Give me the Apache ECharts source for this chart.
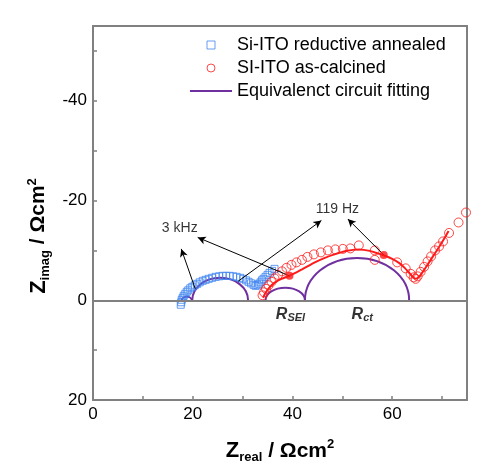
<!DOCTYPE html>
<html><head><meta charset="utf-8">
<script src="https://cdn.jsdelivr.net/npm/echarts@6/dist/echarts.min.js"></script>
<style>html,body{margin:0;padding:0;background:#fff}#c{width:500px;height:474px}</style>
</head><body><div id="c"></div>
<script>
// ---- data ----
const blueAnnealed = [
  [17.6,0.9],[17.7,0.4],[17.8,-0.1],[18.0,-0.5],[18.2,-0.9],[18.5,-1.3],[18.8,-1.7],[19.1,-2.0],
  [19.5,-2.4],[19.9,-2.7],[20.4,-3.0],[20.9,-3.3],[21.4,-3.6],[22.0,-3.9],[22.6,-4.1],[23.2,-4.3],
  [23.9,-4.5],[24.6,-4.7],[25.3,-4.8],[26.0,-4.9],[26.7,-4.9],[27.4,-4.9],[28.1,-4.8],[28.8,-4.7],
  [29.5,-4.5],[30.1,-4.3],[30.7,-4.0],[31.2,-3.7],[31.7,-3.4],[32.2,-3.1],[32.6,-2.9],[33.0,-3.0],
  [33.3,-3.3],[33.6,-3.6],[33.9,-4.0],[34.2,-4.3],[34.6,-4.7],[35.0,-5.1],[35.4,-5.5],[35.9,-5.9],[36.4,-6.3]
];
const redCalcined = [
  [34.0,-1.0],[34.3,-1.6],[34.7,-2.3],[35.2,-3.0],[35.8,-3.7],[36.4,-4.4],[37.1,-5.1],[37.9,-5.8],
  [38.8,-6.5],[39.8,-7.1],[40.8,-7.6],[41.9,-8.1],[43.0,-8.7],[44.3,-9.2],[45.7,-9.6],[47.1,-10.0],
  [48.6,-10.2],[50.1,-10.3],[51.6,-10.4],[53.3,-11.0],[56.5,-10.0],[56.5,-8.1],[61.0,-7.6],[62.7,-6.4],
  [63.7,-5.3],[64.3,-4.6],[64.7,-4.3],[65.1,-4.8],[65.7,-5.7],[66.4,-6.7],[67.1,-7.8],[67.8,-8.8],
  [68.6,-10.0],[69.4,-10.8],[70.2,-11.8],[71.4,-13.5],[73.3,-15.6],[74.8,-17.6]
];
const redFit = [
  [34.1,-0.5],[34.6,-1.5],[35.4,-2.6],[36.5,-3.6],[37.8,-4.3],[39.4,-4.9],[40.8,-5.6],[42.1,-6.3],
  [44.7,-7.7],[46.5,-8.5],[48.1,-9.1],[50.7,-9.9],[53.4,-10.2],[55.5,-9.9],[57.4,-9.3],[58.3,-9.0],
  [60.0,-8.3],[61.5,-7.4],[62.5,-6.5],[63.5,-5.4],[64.2,-4.6],[64.7,-4.3],[65.3,-4.6],[66.2,-5.8],
  [67.2,-7.3],[68.3,-9.0],[69.4,-10.7],[70.5,-12.5],[71.3,-13.9]
];
const markedPoints = [[39.4,-4.9],[58.3,-9.1]];
// circuit-element arcs: [start, end, height]
const fitArcs = [[17.8,19.8,0.7],[19.9,31.1,4.5],[34.6,42.5,2.5],[42.5,63.4,8.5]];
const arrows = [
  [[20.5,-2.3],[17.7,-10.3]],
  [[39.4,-4.9],[21.0,-12.6]],
  [[29.1,-3.8],[45.8,-16.0]],
  [[58.4,-9.0],[51.1,-16.3]]
];
const notes = [
  [17.4,-14.4,'3 kHz'],
  [49.0,-18.2,'119 Hz'],
  [39.6,2.8,'{r|R}{s|SEI}'],
  [54.0,2.8,'{r|R}{s|ct}']
];
const xLabelTicks = [0,20,40,60];
const xMinorTicks = [10,20,30,40,50,60,70];
const yLabelTicks = [-40,-20,0,20];
const yAllTicks = [-50,-40,-30,-20,-10,0,10];
const legendNames = ['Si-ITO reductive annealed','SI-ITO as-calcined','Equivalenct circuit fitting'];

const BLUE = '#3f84f0', RED = '#ff1a1a', PURPLE = '#7030A0', GREY = '#808080';
const FONT = 'Liberation Sans, Arial, sans-serif';

const chart = echarts.init(document.getElementById('c'), null, {renderer:'canvas'});
const axisLineStyle = {color: GREY, width: 2};
const titleRich = {
  z: {fontSize: 22, fontWeight: 'bold', color: '#000', fontFamily: FONT, lineHeight: 26},
  sub: {fontSize: 13, fontWeight: 'bold', color: '#000', fontFamily: FONT, verticalAlign: 'bottom', lineHeight: 12, padding: [12, 0, 0, 0]},
  t: {fontSize: 21, fontWeight: 'bold', color: '#000', fontFamily: FONT, lineHeight: 26},
  sup: {fontSize: 13, fontWeight: 'bold', color: '#000', fontFamily: FONT, verticalAlign: 'top', lineHeight: 12, padding: [0, 0, 10, 0]}
};
chart.setOption({
  animation: false,
  textStyle: {fontFamily: FONT},
  grid: {left: 93, right: 33, top: 26, bottom: 74},
  legend: {
    left: 190, top: 36, orient: 'vertical', padding: 0, itemGap: 5,
    itemWidth: 42, itemHeight: 8, selectedMode: false, symbolKeepAspect: true,
    textStyle: {fontSize: 18, color: '#000', fontFamily: FONT},
    data: [
      {name: legendNames[0], icon: 'path://M0,0H10V10H0Z', itemStyle: {color: 'rgba(0,0,0,0)', borderColor: BLUE, borderWidth: 1}},
      {name: legendNames[1], icon: 'circle', itemStyle: {color: 'rgba(0,0,0,0)', borderColor: RED, borderWidth: 1}},
      {name: legendNames[2], icon: 'path://M0,0H42V2H0Z', itemStyle: {color: PURPLE, borderWidth: 0}}
    ]
  },
  xAxis: [
    {type: 'value', min: 0, max: 75, position: 'bottom',
     axisLine: {show: true, onZero: false, lineStyle: axisLineStyle},
     axisTick: {show: true, inside: true, length: 4, customValues: xMinorTicks, lineStyle: {color: GREY, width: 1.5}},
     axisLabel: {customValues: xLabelTicks, fontSize: 17, color: '#000', margin: 6, fontFamily: FONT},
     splitLine: {show: false},
     name: '{z|Z}{sub|real}{t| / Ωcm}{sup|2}', nameLocation: 'middle', nameGap: 38,
     nameTextStyle: {rich: titleRich}},
    {type: 'value', min: 0, max: 75, position: 'top',
     axisLine: {show: true, onZero: false, lineStyle: axisLineStyle},
     axisTick: {show: false}, axisLabel: {show: false}, splitLine: {show: false}}
  ],
  yAxis: [
    {type: 'value', min: -55, max: 20, inverse: true, position: 'left',
     axisLine: {show: true, onZero: false, lineStyle: axisLineStyle},
     axisTick: {show: true, inside: true, length: 4, customValues: yAllTicks, lineStyle: {color: GREY, width: 1.5}},
     axisLabel: {customValues: yLabelTicks, fontSize: 17, color: '#000', margin: 6, fontFamily: FONT},
     splitLine: {show: false},
     name: '{z|Z}{sub|imag}{t| / Ωcm}{sup|2}', nameLocation: 'middle', nameGap: 38, nameRotate: 90,
     nameTextStyle: {padding: [0, 46, 0, 0], rich: titleRich}},
    {type: 'value', min: -55, max: 20, inverse: true, position: 'right',
     axisLine: {show: true, onZero: false, lineStyle: axisLineStyle},
     axisTick: {show: false}, axisLabel: {show: false}, splitLine: {show: false}}
  ],
  series: [
    {type: 'custom', name: legendNames[2], xAxisIndex: 0, yAxisIndex: 0, z: 2,
     data: fitArcs, encode: {x: [0, 1], y: 2},
     renderItem: function (params, api) {
       const x1 = api.value(0), x2 = api.value(1), h = api.value(2);
       const p1 = api.coord([x1, 0]), p2 = api.coord([x2, 0]);
       const top = api.coord([(x1 + x2) / 2, -h]);
       const rx = (p2[0] - p1[0]) / 2, ry = Math.abs(p1[1] - top[1]);
       return {type: 'path',
         shape: {pathData: 'M' + p1[0] + ' ' + p1[1] + ' A' + rx + ' ' + ry + ' 0 0 1 ' + p2[0] + ' ' + p2[1]},
         style: {fill: 'none', stroke: PURPLE, lineWidth: 2}};
     },
     markLine: {silent: true, symbol: 'none', label: {show: false},
       lineStyle: {color: GREY, width: 2, type: 'solid'},
       data: [{yAxis: 0}]}
    },
    {type: 'scatter', name: legendNames[0], data: blueAnnealed, symbol: 'rect', symbolSize: 7, z: 3,
     itemStyle: {color: 'rgba(0,0,0,0)', borderColor: BLUE, borderWidth: 1}},
    {type: 'scatter', name: legendNames[1], data: redCalcined, symbol: 'circle', symbolSize: 9, z: 3,
     itemStyle: {color: 'rgba(0,0,0,0)', borderColor: RED, borderWidth: 1}},
    {type: 'line', name: 'red-fit', data: redFit, smooth: 0.3, showSymbol: false, symbol: 'none', z: 4,
     lineStyle: {color: RED, width: 2}},
    {type: 'scatter', name: 'marked', data: markedPoints, symbol: 'circle', symbolSize: 8, z: 5,
     itemStyle: {color: RED}},
    {type: 'scatter', name: 'notes', data: notes, symbolSize: 0, z: 6, silent: true,
     label: {show: true, position: 'inside', color: '#000', fontSize: 14, fontFamily: FONT,
       formatter: function (p) { return p.data[2]; },
       rich: {
         r: {fontSize: 16, fontWeight: 'bold', fontStyle: 'italic', color: '#000', fontFamily: FONT, lineHeight: 18},
         s: {fontSize: 11, fontWeight: 'bold', fontStyle: 'italic', color: '#000', fontFamily: FONT, verticalAlign: 'bottom', lineHeight: 10, padding: [8, 0, 0, 0]}
       }},
     markLine: {silent: true, symbol: ['none', 'arrow'], symbolSize: [6, 8], label: {show: false},
       lineStyle: {color: '#000', width: 1, type: 'solid'},
       data: arrows.map(function (a) { return [{coord: a[0]}, {coord: a[1]}]; })}
    }
  ]
});
</script></body></html>
